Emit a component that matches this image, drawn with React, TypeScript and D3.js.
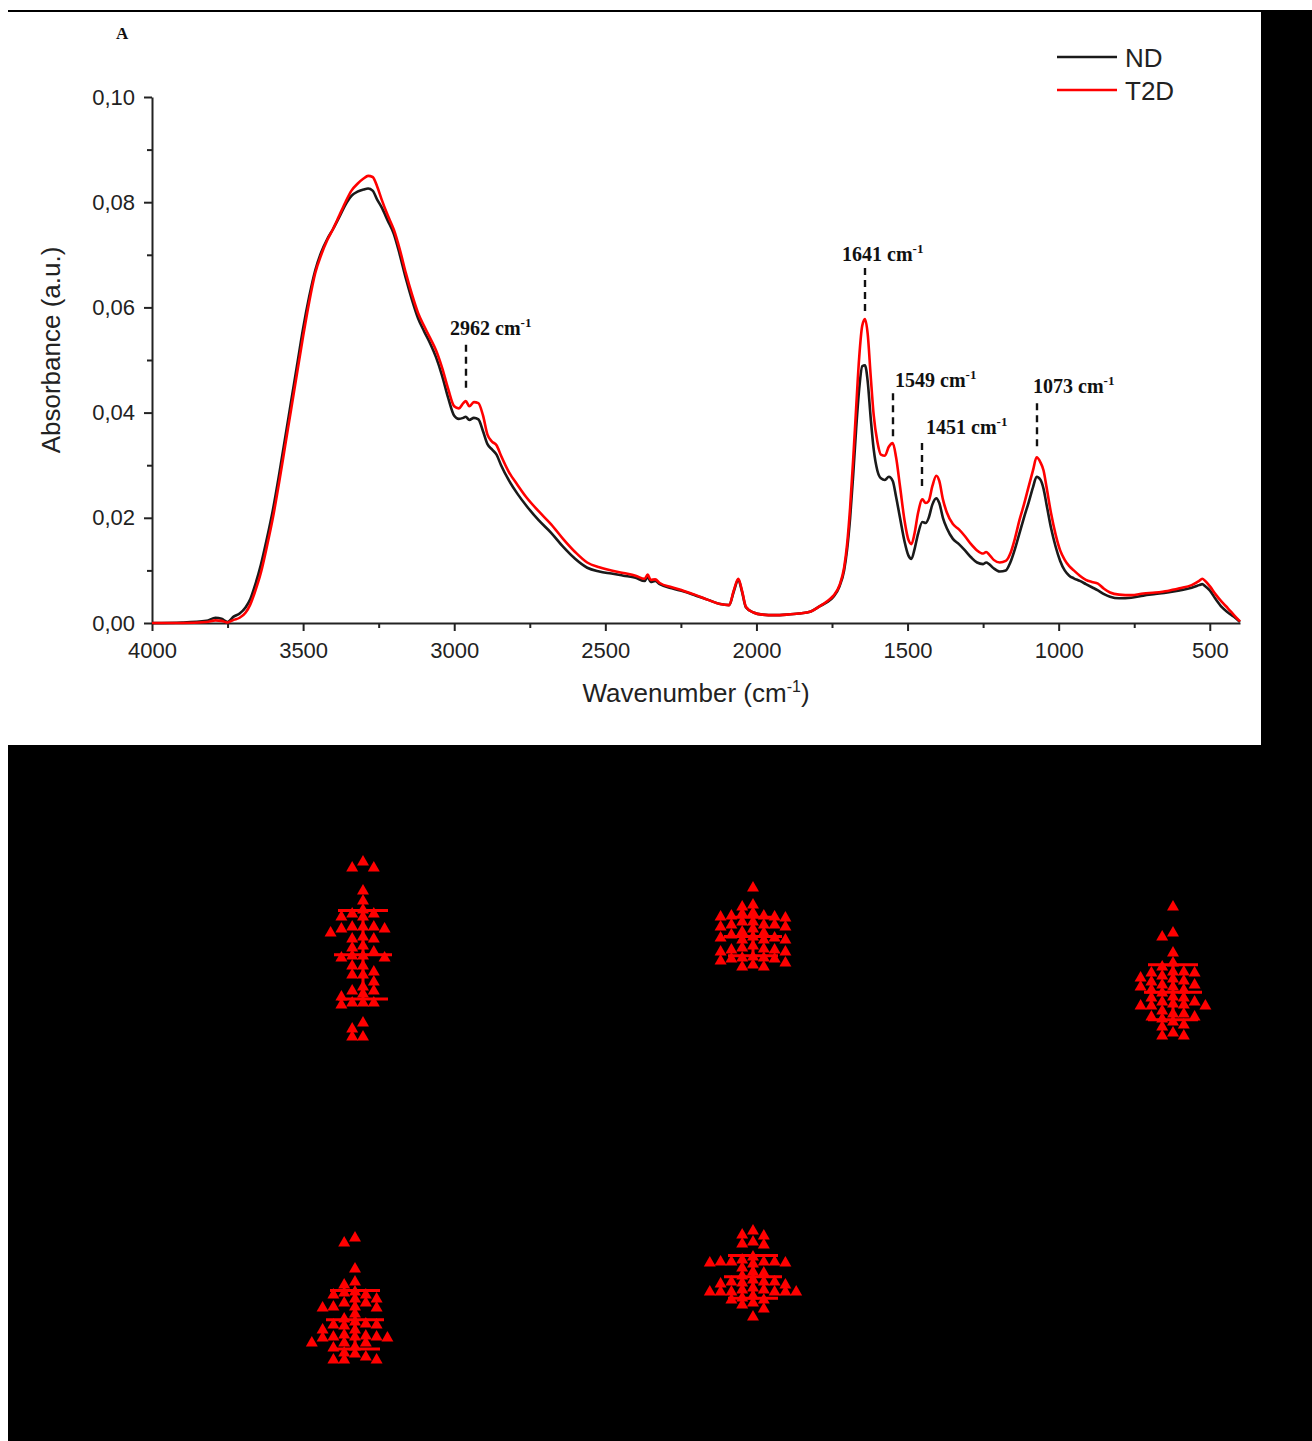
import React, { useRef, useEffect } from "react";
import * as d3 from "d3";

// FTIR spectra (panel A)
const wavenumbers = [
  4000, 3900, 3820, 3790, 3770, 3750, 3730, 3710, 3690, 3675, 3660, 3640, 3620, 3600, 3580, 3560,
  3540, 3520, 3500, 3480, 3460, 3440, 3420, 3400, 3380, 3360, 3340, 3320, 3300, 3285, 3270, 3255,
  3240, 3220, 3200, 3180, 3160, 3140, 3120, 3100, 3080, 3060, 3040, 3020, 3000, 2985, 2970, 2962,
  2950, 2935, 2920, 2905, 2890, 2875, 2860, 2845, 2820, 2790, 2760, 2720, 2680, 2640, 2600, 2560,
  2520, 2480, 2440, 2400, 2370, 2360, 2350, 2335, 2320, 2280, 2240, 2200, 2160, 2120, 2090, 2075,
  2060, 2048, 2035, 2010, 1980, 1940, 1900, 1860, 1820, 1790, 1765, 1745, 1725, 1710, 1700, 1690,
  1680, 1670, 1660, 1650, 1641, 1632, 1622, 1612, 1600, 1588, 1575, 1562, 1549, 1538, 1525, 1510,
  1497, 1487, 1477, 1465, 1451, 1440, 1430, 1418, 1405, 1395, 1383, 1370, 1350, 1330, 1310, 1290,
  1270, 1250, 1240, 1230, 1215, 1195, 1175, 1160, 1145, 1130, 1115, 1100, 1085, 1073, 1060, 1050,
  1040, 1025, 1010, 995, 980, 965, 950, 930, 910, 890, 870, 850, 830, 800, 760, 720,
  680, 640, 600, 560, 535, 525, 515, 500, 480, 460, 440, 420, 400,
];

const ndAbs = [
  0.0, 0.0001, 0.0004, 0.001, 0.0008, 0.0002, 0.0012, 0.0018, 0.003, 0.0045, 0.007, 0.011, 0.016, 0.0215, 0.028, 0.035,
  0.042, 0.049, 0.056, 0.062, 0.067, 0.0705, 0.073, 0.075, 0.0772, 0.0795, 0.0812, 0.082, 0.0824, 0.0826, 0.0822, 0.0805,
  0.079, 0.0765, 0.074, 0.07, 0.0655, 0.0615, 0.058, 0.0555, 0.0532, 0.0505, 0.047, 0.0428, 0.0394, 0.0388, 0.039, 0.0392,
  0.0386, 0.039, 0.0387, 0.0365, 0.034, 0.033, 0.032, 0.03, 0.0272, 0.0245, 0.0222, 0.0195, 0.0172, 0.0145, 0.0122, 0.0105,
  0.0098, 0.0094, 0.009, 0.0086, 0.008, 0.0088, 0.0078, 0.008, 0.0074, 0.0066, 0.006, 0.0052, 0.0044, 0.0036, 0.0034, 0.006,
  0.0082, 0.006, 0.003, 0.002, 0.0016, 0.0015, 0.0016, 0.0018, 0.0022, 0.0032, 0.004, 0.005, 0.007, 0.01, 0.014, 0.02,
  0.028, 0.037, 0.0445, 0.0488, 0.049, 0.046, 0.039, 0.033, 0.029, 0.0275, 0.0272, 0.0278, 0.027, 0.024, 0.02, 0.0155,
  0.0128, 0.0122, 0.014, 0.017, 0.0192, 0.019, 0.02, 0.0225, 0.0237, 0.0228, 0.02, 0.018, 0.016, 0.015, 0.0138, 0.0125,
  0.0115, 0.0112, 0.0115, 0.0112, 0.0104, 0.0098, 0.01, 0.0115, 0.014, 0.017, 0.02, 0.0228, 0.0258, 0.0278, 0.0272, 0.0255,
  0.0225, 0.018, 0.0145, 0.0118, 0.01, 0.009, 0.0085, 0.008, 0.0074, 0.0068, 0.0062, 0.0055, 0.005, 0.0047, 0.0048, 0.0052,
  0.0055, 0.0058, 0.0062, 0.0067, 0.0072, 0.0074, 0.007, 0.0062, 0.0045, 0.003, 0.002, 0.0012, 0.0002,
];

const t2dAbs = [
  0.0, 0.0, 0.0002, 0.0005, 0.0004, 0.0001, 0.0006, 0.001, 0.002, 0.0035, 0.0058, 0.0095, 0.0145, 0.02, 0.0265, 0.0335,
  0.0405, 0.0475, 0.0545, 0.061, 0.0665, 0.07, 0.0728, 0.075, 0.0775, 0.08, 0.0822, 0.0835, 0.0845, 0.085, 0.0848, 0.083,
  0.0805, 0.0775, 0.0748, 0.071, 0.0665, 0.0625, 0.059, 0.0565, 0.0542, 0.0518, 0.0485, 0.0445, 0.0412, 0.0408, 0.0418, 0.0422,
  0.0412, 0.042, 0.0418, 0.0395, 0.0358, 0.0345, 0.0338, 0.0318, 0.0288, 0.0262, 0.0238, 0.0212, 0.0188, 0.016, 0.0135, 0.0115,
  0.0106, 0.01, 0.0095, 0.009, 0.0084, 0.0092, 0.0082, 0.0083, 0.0076, 0.0068, 0.0061, 0.0053, 0.0044, 0.0036, 0.0034, 0.0062,
  0.0084, 0.0062, 0.0031, 0.002, 0.0016, 0.0015, 0.0016, 0.0018, 0.0022, 0.0032, 0.0042, 0.0052, 0.0072, 0.0105, 0.015, 0.022,
  0.031, 0.041, 0.0505, 0.0565, 0.0578, 0.055, 0.047, 0.0395, 0.0345, 0.032, 0.0318, 0.0335, 0.0342, 0.0315, 0.026, 0.0195,
  0.0158, 0.015, 0.017, 0.021, 0.0235, 0.0228, 0.0232, 0.026, 0.028, 0.027, 0.0235, 0.021, 0.0188, 0.0178, 0.0165, 0.015,
  0.0138, 0.0132, 0.0135, 0.013, 0.012, 0.0115, 0.0118, 0.0132, 0.016, 0.0195, 0.0225, 0.0258, 0.029, 0.0315, 0.0305, 0.029,
  0.0258, 0.0208, 0.0168, 0.0138, 0.012, 0.0108, 0.01, 0.009, 0.0082, 0.0078, 0.0075, 0.0065, 0.0058, 0.0054, 0.0053, 0.0056,
  0.0058, 0.0061, 0.0066, 0.0072, 0.008, 0.0084, 0.008, 0.007, 0.0054, 0.004, 0.0028, 0.0015, 0.0003,
];

const yTicks = [0, 0.02, 0.04, 0.06, 0.08, 0.1];
const yMinorTicks = [0.01, 0.03, 0.05, 0.07, 0.09];
const xTicks = [4000, 3500, 3000, 2500, 2000, 1500, 1000, 500];
const xMinorTicks = [3750, 3250, 2750, 2250, 1750, 1250, 750];

const seriesNames = ["ND", "T2D"];

// band annotations
const peakWaves = [2962, 1641, 1549, 1451, 1073];
const peakDashTop = [0.0529, 0.0675, 0.0437, 0.0342, 0.0418];
const peakDashBottom = [0.0443, 0.0589, 0.0352, 0.0253, 0.0333];
const peakLabelLevel = [0.0547, 0.0688, 0.0449, 0.036, 0.0437];

// scatter panels (mean ± SD), arbitrary units
const topGroups = ["G1", "G2", "G3"];
const topValues = [
  [94, 91, 91, 79.5, 74.5, 70, 68, 66.5, 66.5, 68, 61.5, 61.5, 60.5, 58.5, 60.5, 61.5, 55.5, 55.5, 56.5, 51, 52, 49, 47,
    46, 46, 47, 42, 42, 39, 37.5, 37.5, 34, 31.5, 29.5, 29.5, 28, 26.5, 23.5, 22.5, 23.5, 23.5, 13.5, 10.5, 6.5, 6.5],
  [81, 72.5, 71.5, 68.5, 67, 66.5, 66, 66.5, 67, 68, 64, 62.5, 61.5, 62.5, 64, 60.5, 61.5, 62.5, 59, 57.5, 56, 55, 55,
    55, 56, 56.5, 58.5, 51, 50, 49, 49, 50, 50.5, 52, 46, 44.5, 43.5, 45.5, 45.5, 46, 46.5, 42.5, 41.5, 41.5],
  [71.5, 58.5, 56.5, 48.5, 41.5, 43.5, 39, 38.5, 39, 37, 38.5, 36, 34.5, 34, 35.5, 32.5, 31.5, 31.5, 32.5, 28.5, 30, 30,
    24, 23, 26, 26, 24, 26.5, 22, 22.5, 22, 22, 18, 16.5, 15.5, 14, 16.5, 18, 19.5, 12.5, 11.5, 8.5, 7, 7],
];
const bottomGroups = ["G4", "G5"];
const bottomValues = [
  [66, 63.5, 50.5, 44, 42.5, 39, 37.5, 37.5, 38.5, 35.5, 35.5, 33.5, 33.5, 31.5, 31, 31, 31.5, 28, 24, 22.5, 22, 20, 20,
    22.5, 23, 25.5, 17.5, 16.5, 16, 16.5, 16, 16.5, 17, 11, 11.5, 8, 8.5, 5, 5, 5, 6.5, 13.5, 13.5, 13.5],
  [69.5, 67.5, 67, 63, 64, 62.5, 56.5, 54, 54, 53.5, 54, 53, 53.5, 54, 55, 49, 48.5, 44, 43, 45, 43.5, 42.5, 44, 44, 39,
    39, 40, 39, 40, 39, 39, 39, 35, 33.5, 32.5, 35, 36, 30.5, 26.5, 51, 47, 41, 37],
];

const FONT = "'Liberation Sans', Arial, sans-serif";
const SERIF = "'Liberation Serif', 'Times New Roman', serif";
const W = 1312;
const H = 1441;

// simple dodge layout so the triangles do not overlap too much
function swarm(values, yScale) {
  const step = 5.4;
  const placed = [];
  const sorted = values.map((v) => yScale(v)).sort((a, b) => a - b);
  sorted.forEach((py) => {
    for (let k = 0; k < 40; k++) {
      const off = (k % 2 === 0 ? 1 : -1) * Math.ceil(k / 2) * step;
      const hit = placed.some((p) => Math.abs(p.dx - off) < 10.5 && Math.abs(p.y - py) < 7);
      if (!hit) {
        placed.push({ dx: off, y: py });
        break;
      }
    }
  });
  return placed;
}

const App = () => {
  const svgRef = useRef();

  useEffect(() => {
    const svg = d3.select(svgRef.current);
    svg.selectAll("*").remove();

    // page background and black frame regions
    svg.append("rect").attr("width", W).attr("height", H).attr("fill", "#fff");
    svg.append("rect").attr("x", 8).attr("y", 10).attr("width", W - 8).attr("height", 2).attr("fill", "#000");
    svg.append("rect").attr("x", 1261).attr("y", 12).attr("width", W - 1261).attr("height", H - 12).attr("fill", "#000");
    svg.append("rect").attr("x", 8).attr("y", 745).attr("width", W - 8).attr("height", H - 745).attr("fill", "#000");

    // ---- panel A ----
    const x = d3.scaleLinear().domain([4000, 400]).range([152, 1240]);
    const y = d3.scaleLinear().domain([0, 0.1]).range([623, 97]);

    const yAxis = svg
      .append("g")
      .attr("transform", "translate(152,0)")
      .call(
        d3.axisLeft(y).tickValues(yTicks).tickSize(8).tickSizeOuter(0).tickPadding(9)
          .tickFormat((d) => d3.format(".2f")(d).replace(".", ","))
      );
    svg
      .append("g")
      .attr("transform", "translate(152,0)")
      .call(d3.axisLeft(y).tickValues(yMinorTicks).tickSize(5).tickSizeOuter(0).tickFormat(() => ""))
      .select(".domain")
      .remove();

    const xAxis = svg
      .append("g")
      .attr("transform", "translate(0,623)")
      .call(
        d3.axisBottom(x).tickValues(xTicks).tickSize(8).tickSizeOuter(0).tickPadding(11)
          .tickFormat(d3.format("d"))
      );
    svg
      .append("g")
      .attr("transform", "translate(0,623)")
      .call(d3.axisBottom(x).tickValues(xMinorTicks).tickSize(5).tickSizeOuter(0).tickFormat(() => ""))
      .select(".domain")
      .remove();

    svg.selectAll(".domain, .tick line").attr("stroke", "#222").attr("stroke-width", 2);
    [yAxis, xAxis].forEach((a) =>
      a.selectAll("text").attr("font-family", FONT).attr("font-size", 22).attr("fill", "#222")
    );

    // axis titles
    const xt = svg
      .append("text")
      .attr("x", 696)
      .attr("y", 702)
      .attr("text-anchor", "middle")
      .attr("font-family", FONT)
      .attr("font-size", 26)
      .attr("fill", "#222");
    xt.append("tspan").text("Wavenumber (cm");
    xt.append("tspan").attr("font-size", 16).attr("dy", -10).text("-1");
    xt.append("tspan").attr("dy", 10).text(")");

    svg
      .append("text")
      .attr("transform", "translate(60,350) rotate(-90)")
      .attr("text-anchor", "middle")
      .attr("font-family", FONT)
      .attr("font-size", 26)
      .attr("fill", "#222")
      .text("Absorbance (a.u.)");

    svg
      .append("text")
      .attr("x", 116)
      .attr("y", 39)
      .attr("font-family", SERIF)
      .attr("font-weight", "bold")
      .attr("font-size", 17)
      .attr("fill", "#111")
      .text("A");

    // spectra
    const rows = wavenumbers.map((w, i) => ({ w, nd: ndAbs[i], t2d: t2dAbs[i] }));
    const colors = ["#1a1a1a", "#ff0000"];
    ["nd", "t2d"].forEach((key, i) => {
      const line = d3
        .line()
        .x((d) => x(d.w))
        .y((d) => y(d[key]))
        .curve(d3.curveMonotoneX);
      svg
        .append("path")
        .datum(rows.filter((d) => d[key] !== undefined))
        .attr("d", line)
        .attr("fill", "none")
        .attr("stroke", colors[i])
        .attr("stroke-width", 2.6)
        .attr("stroke-linejoin", "round");
    });

    // legend
    seriesNames.forEach((name, i) => {
      const ly = 57 + i * 33;
      svg.append("line").attr("x1", 1057).attr("x2", 1117).attr("y1", ly).attr("y2", ly)
        .attr("stroke", colors[i]).attr("stroke-width", 2.6);
      svg.append("text").attr("x", 1125).attr("y", ly + 9.5).attr("font-family", FONT)
        .attr("font-size", 26).attr("fill", "#222").text(name);
    });

    // peak annotations
    const labelShift = [-16, -23, 2, 4, -4];
    peakWaves.forEach((w, i) => {
      const px = Math.round(x(w));
      svg.append("line").attr("x1", px).attr("x2", px)
        .attr("y1", y(peakDashTop[i])).attr("y2", y(peakDashBottom[i]))
        .attr("stroke", "#111").attr("stroke-width", 2.4).attr("stroke-dasharray", "7,5");
      const t = svg.append("text").attr("x", px + labelShift[i]).attr("y", y(peakLabelLevel[i]))
        .attr("font-family", SERIF).attr("font-weight", "bold").attr("font-size", 20).attr("fill", "#111");
      t.append("tspan").text(`${w} cm`);
      t.append("tspan").attr("font-size", 13).attr("dy", -8).text("-1");
    });

    // ---- scatter panels ----
    const tri = d3.symbol(d3.symbolTriangle, 62);
    const drawRow = (groups, values, cxs, range) => {
      const gy = d3.scaleLinear().domain([0, 100]).range(range);
      const gx = d3.scaleOrdinal().domain(groups).range(cxs);
      groups.forEach((g, gi) => {
        const vals = values[gi];
        const cx = gx(g);
        swarm(vals, gy).forEach((p) => {
          svg.append("path").attr("d", tri).attr("transform", `translate(${cx + p.dx},${p.y})`)
            .attr("fill", "#ff0000");
        });
        const m = d3.mean(vals);
        const sd = d3.deviation(vals);
        const bar = (x1, x2, yy) =>
          svg.append("line").attr("x1", x1).attr("x2", x2).attr("y1", yy).attr("y2", yy)
            .attr("stroke", "#ff0000").attr("stroke-width", 3);
        svg.append("line").attr("x1", cx).attr("x2", cx).attr("y1", gy(m + sd)).attr("y2", gy(m - sd))
          .attr("stroke", "#ff0000").attr("stroke-width", 3);
        bar(cx - 29, cx + 29, gy(m));
        bar(cx - 25, cx + 25, gy(m + sd));
        bar(cx - 25, cx + 25, gy(m - sd));
      });
    };
    drawRow(topGroups, topValues, [363, 753, 1173], [1050, 850]);
    drawRow(bottomGroups, bottomValues, [355, 753], [1370, 1170]);
  }, []);

  return (
    <svg
      ref={svgRef}
      width={W}
      height={H}
      style={{ position: "fixed", left: 0, top: 0, display: "block" }}
    ></svg>
  );
};

export default App;
